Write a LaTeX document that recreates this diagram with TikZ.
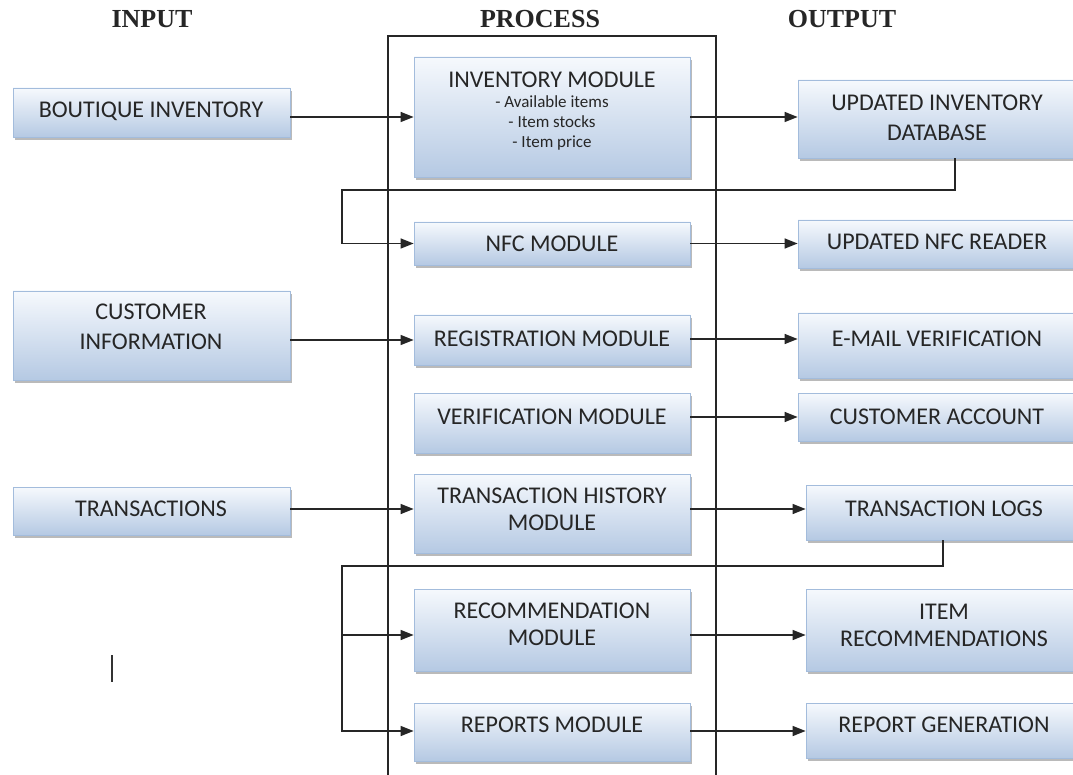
\documentclass[tikz,border=0pt]{standalone}
\usepackage{fontspec}
\setmainfont{Carlito}
\newfontfamily\headfont{Liberation Serif}
\usetikzlibrary{arrows.meta,shadows}
\definecolor{boxtop}{HTML}{F6F9FD}
\definecolor{boxbot}{HTML}{B5C9E3}
\definecolor{boxedge}{HTML}{A3BCDC}
\definecolor{txt}{HTML}{262626}
\tikzset{
  box/.style={draw=boxedge, line width=0.8pt, top color=boxtop, bottom color=boxbot,
    drop shadow={shadow xshift=2pt, shadow yshift=-3pt, fill=black!45, opacity=0.6},
    inner sep=0pt},
  lbl/.style={inner sep=0pt, text height=15.5pt, text depth=0pt, text=txt,
    font=\fontsize{24}{28}\selectfont},
  sublbl/.style={inner sep=0pt, text height=11pt, text depth=0pt, text=txt,
    font=\fontsize{17}{20}\selectfont},
  head/.style={font=\headfont\bfseries\fontsize{26}{30}\selectfont, text=black!85,
    inner sep=0pt, text height=17pt, text depth=0pt},
  conn/.style={line width=1.5pt, draw=black!85},
  arr/.style={conn, -{Triangle[length=13pt,width=10pt]}},
}
\begin{document}
\begin{tikzpicture}[x=1pt,y=-1pt]
\useasboundingbox[fill=white] (0,0) rectangle (1073,775);

% headings
\node[head] (hin) at (152,19) {INPUT};
\node[head] (hpr) at (540,19) {PROCESS};
\node[head] (hout) at (842,19) {OUTPUT};

% process frame
\draw[conn] (388,780) -- (388,36) -- (716,36) -- (716,780);

% input boxes
\node[box, minimum width=277pt, minimum height=49pt] (bi) at (151.5,112.5) {};
\node[lbl] (bi-t) at (151,110) {BOUTIQUE INVENTORY};
\node[box, minimum width=277pt, minimum height=89pt] (ci) at (151.5,335.5) {};
\node[lbl] (ci-t1) at (151,312) {CUSTOMER};
\node[lbl] (ci-t2) at (151,342) {INFORMATION};
\node[box, minimum width=277pt, minimum height=48pt] (tr) at (151.5,511) {};
\node[lbl] (tr-t) at (151,509) {TRANSACTIONS};

% process boxes
\node[box, minimum width=276pt, minimum height=120pt] (inv) at (552,117) {};
\node[lbl] (inv-t) at (552,80) {INVENTORY MODULE};
\node[sublbl] (inv-s1) at (552,102) {- Available items};
\node[sublbl] (inv-s2) at (552,122) {- Item stocks};
\node[sublbl] (inv-s3) at (552,142) {- Item price};
\node[box, minimum width=276pt, minimum height=43pt] (nfc) at (552,243.5) {};
\node[lbl] (nfc-t) at (552,244) {NFC MODULE};
\node[box, minimum width=276pt, minimum height=50pt] (reg) at (552,340) {};
\node[lbl] (reg-t) at (552,339) {REGISTRATION MODULE};
\node[box, minimum width=276pt, minimum height=60pt] (ver) at (552,423) {};
\node[lbl] (ver-t) at (552,417) {VERIFICATION MODULE};
\node[box, minimum width=276pt, minimum height=79pt] (th) at (552,513.5) {};
\node[lbl] (th-t1) at (552,496) {TRANSACTION HISTORY};
\node[lbl] (th-t2) at (552,523) {MODULE};
\node[box, minimum width=276pt, minimum height=82pt] (rec) at (552,630) {};
\node[lbl] (rec-t1) at (552,611) {RECOMMENDATION};
\node[lbl] (rec-t2) at (552,638) {MODULE};
\node[box, minimum width=276pt, minimum height=58pt] (rep) at (552,732) {};
\node[lbl] (rep-t) at (552,725) {REPORTS MODULE};

% output boxes
\node[box, minimum width=287pt, minimum height=78pt] (udb) at (941.5,119) {};
\node[lbl] (udb-t1) at (937,103) {UPDATED INVENTORY};
\node[lbl] (udb-t2) at (937,133) {DATABASE};
\node[box, minimum width=287pt, minimum height=48pt] (unfc) at (941.5,244) {};
\node[lbl] (unfc-t) at (937,242) {UPDATED NFC READER};
\node[box, minimum width=287pt, minimum height=65pt] (em) at (941.5,345.5) {};
\node[lbl] (em-t) at (937,339) {E-MAIL VERIFICATION};
\node[box, minimum width=287pt, minimum height=48pt] (ca) at (941.5,417) {};
\node[lbl] (ca-t) at (937,417) {CUSTOMER ACCOUNT};
\node[box, minimum width=279pt, minimum height=55pt] (tl) at (945.5,512.5) {};
\node[lbl] (tl-t) at (944,509) {TRANSACTION LOGS};
\node[box, minimum width=279pt, minimum height=82pt] (irec) at (945.5,630) {};
\node[lbl] (irec-t1) at (944,612) {ITEM};
\node[lbl] (irec-t2) at (944,639) {RECOMMENDATIONS};
\node[box, minimum width=279pt, minimum height=55pt] (rg) at (945.5,730.5) {};
\node[lbl] (rg-t) at (944,725) {REPORT GENERATION};

% input -> process
\draw[arr] (bi.east |- inv.west) -- (inv.west);
\draw[arr] (ci.east |- reg.west) -- (reg.west);
\draw[arr] (tr.east |- 0,509) -- (th.west |- 0,509);

% process -> output
\draw[arr] (inv.east) -- (inv.east -| udb.west);
\draw[arr] (nfc.east) -- (nfc.east -| unfc.west);
\draw[arr] (reg.east |- 0,339) -- (em.west |- 0,339);
\draw[arr] (ver.east |- ca.west) -- (ca.west);
\draw[arr] (th.east |- 0,509) -- (tl.west |- 0,509);
\draw[arr] (rec.east |- 0,635) -- (irec.west |- 0,635);
\draw[arr] (rep.east |- 0,731) -- (rg.west |- 0,731);

% feedback loops
\coordinate (k1) at (955,190);
\coordinate (k2) at (342,190);
\draw[arr] (udb.south -| k1) -- (k1) -- (k2) |- (nfc.west);
\coordinate (k3) at (943,566);
\coordinate (k4) at (342,566);
\draw[arr] (tl.south -| k3) -- (k3) -- (k4) |- (rep.west |- 0,731);
\draw[arr] (k4 |- 0,635) -- (rec.west |- 0,635);

% stray cursor mark
\draw[line width=1.3pt, black!80] (112,655) -- (112,682);
\end{tikzpicture}
\end{document}
